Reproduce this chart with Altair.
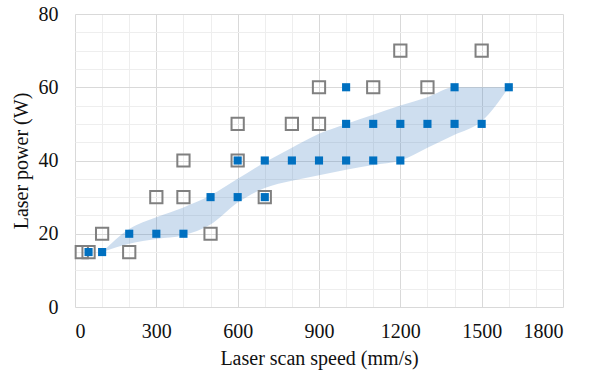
import altair as alt
import pandas as pd

# Filled (blue) squares
filled_speed = [50, 100, 200, 300, 400, 500, 600, 600, 700, 700, 800, 900, 1000, 1000, 1000,
                1100, 1100, 1200, 1200, 1300, 1400, 1400, 1500, 1600]
filled_power = [15, 15, 20, 20, 20, 30, 30, 40, 30, 40, 40, 40, 40, 50, 60,
                40, 50, 40, 50, 50, 50, 60, 50, 60]

# Open (gray) squares
open_speed = [25, 50, 100, 200, 300, 400, 400, 500, 600, 600, 700, 800, 900, 900, 1100, 1200, 1300, 1500]
open_power = [15, 15, 20, 15, 30, 30, 40, 20, 40, 50, 30, 50, 50, 60, 60, 70, 60, 70]

# Shaded process window
band_speed = [100, 200, 300, 400, 500, 600, 700, 800, 900, 1000, 1100, 1200, 1300, 1400, 1500, 1600]
band_upper = [15, 21.3, 24.5, 27.2, 30.5, 35, 39.5, 43.5, 47.3, 50, 52.5, 55, 57.3, 60, 60, 60]
band_lower = [15, 17.3, 18.6, 19.6, 22.5, 28.5, 32.5, 34.5, 36, 37.5, 38.8, 40, 43.5, 47, 50.7, 60]

x_major = [0, 300, 600, 900, 1200, 1500, 1800]
y_major = [0, 20, 40, 60, 80]
x_minor = list(range(0, 1801, 100))
y_minor = list(range(0, 81, 5))

filled_df = pd.DataFrame({"speed": filled_speed, "power": filled_power})
open_df = pd.DataFrame({"speed": open_speed, "power": open_power})
band_df = pd.DataFrame({"speed": band_speed, "upper": band_upper, "lower": band_lower})

FONT = "Liberation Serif, Times New Roman, serif"
FS = 20
xs = alt.Scale(domain=[0, 1800], nice=False, zero=False)
ys = alt.Scale(domain=[0, 80], nice=False, zero=False)

band = alt.Chart(band_df).mark_area(color="#4A86C5", opacity=0.27, interpolate="monotone").encode(
    x=alt.X("speed:Q", scale=xs, axis=alt.Axis(values=x_minor, orient="bottom", labels=False, ticks=False,
                                               domain=False, title=None, grid=True, gridColor="#EEEEEE",
                                               gridWidth=1)),
    y=alt.Y("upper:Q", scale=ys, axis=alt.Axis(values=y_minor, orient="left", labels=False, ticks=False,
                                               domain=False, title=None, grid=True, gridColor="#EEEEEE",
                                               gridWidth=1)),
    y2="lower:Q",
)

open_pts = alt.Chart(open_df).mark_square(filled=False, size=150, stroke="#808080", strokeWidth=2,
                                          opacity=1).encode(
    x=alt.X("speed:Q", scale=xs, axis=alt.Axis(values=x_major, format="d", orient="bottom", ticks=False,
                                               domain=False, grid=True, gridColor="#D9D9D9", gridWidth=1,
                                               title="Laser scan speed (mm/s)", titleFont=FONT,
                                               titleFontSize=FS, titleFontWeight="normal", titleColor="#111",
                                               titlePadding=7, labelFont=FONT, labelFontSize=FS,
                                               labelColor="#111", labelPadding=14)),
    y=alt.Y("power:Q", scale=ys, axis=alt.Axis(values=y_major, format="d", orient="left", ticks=False,
                                               domain=False, grid=True, gridColor="#D9D9D9", gridWidth=1,
                                               title="Laser power (W)", titleFont=FONT,
                                               titleFontSize=FS, titleFontWeight="normal", titleColor="#111",
                                               titlePadding=7, labelFont=FONT, labelFontSize=FS,
                                               labelColor="#111", labelPadding=17)),
)

filled_pts = alt.Chart(filled_df).mark_square(filled=True, size=66, color="#0070C0", opacity=1).encode(
    x=alt.X("speed:Q", scale=xs, axis=None),
    y=alt.Y("power:Q", scale=ys, axis=None),
)

chart = alt.layer(band, open_pts, filled_pts).resolve_axis(
    x="independent", y="independent"
).properties(
    width=488, height=293,
    autosize=alt.AutoSizeParams(type="none"),
    padding={"left": 75, "top": 14, "right": 34, "bottom": 70},
).configure_view(stroke=None)

chart.save("out.html", embed_options={"renderer": "svg", "actions": False})
